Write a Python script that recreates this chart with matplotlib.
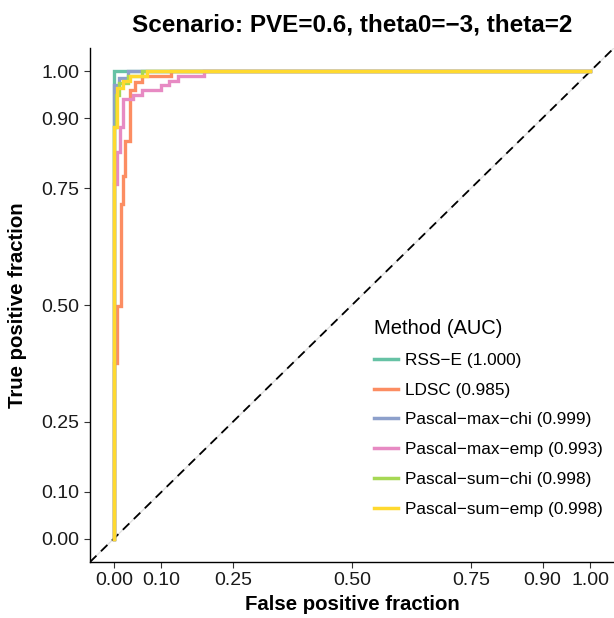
import matplotlib
matplotlib.use("Agg")
import matplotlib.pyplot as plt

plt.rcParams['font.family'] = ['Liberation Sans', 'DejaVu Sans']

# ROC curve vertices (false positive fraction, true positive fraction)
methods = ["RSS\u2212E", "LDSC", "Pascal\u2212max\u2212chi", "Pascal\u2212max\u2212emp",
           "Pascal\u2212sum\u2212chi", "Pascal\u2212sum\u2212emp"]
auc = [1.000, 0.985, 0.999, 0.993, 0.998, 0.998]
colors = ["#66C2A5", "#FC8D62", "#8DA0CB", "#E78AC3", "#A6D854", "#FFD92F"]

fpr_rss = [0.0, 0.0, 1.0]
tpr_rss = [0.0, 1.0, 1.0]

fpr_ldsc = [0.0, 0.0, 0.007, 0.007, 0.016, 0.016, 0.02, 0.02, 0.024, 0.024,
            0.035, 0.035, 0.045, 0.045, 0.06, 0.06, 0.12, 0.12, 1.0]
tpr_ldsc = [0.0, 0.376, 0.376, 0.497, 0.497, 0.716, 0.716, 0.776, 0.776, 0.85,
            0.85, 0.96, 0.96, 0.978, 0.978, 0.99, 0.99, 1.0, 1.0]

fpr_maxchi = [0.0, 0.0, 0.01, 0.01, 0.03, 0.03, 1.0]
tpr_maxchi = [0.0, 0.97, 0.97, 0.985, 0.985, 1.0, 1.0]

fpr_maxemp = [0.0, 0.0, 0.007, 0.007, 0.014, 0.014, 0.02, 0.02, 0.04, 0.04, 0.06, 0.06,
              0.1, 0.1, 0.115, 0.115, 0.135, 0.135, 0.19, 0.19, 1.0]
tpr_maxemp = [0.0, 0.76, 0.76, 0.827, 0.827, 0.882, 0.882, 0.94, 0.94, 0.95, 0.95, 0.96,
              0.96, 0.97, 0.97, 0.98, 0.98, 0.99, 0.99, 1.0, 1.0]

fpr_sumchi = [0.0, 0.0, 0.004, 0.004, 0.01, 0.01, 0.03, 0.03, 0.06, 0.06, 1.0]
tpr_sumchi = [0.0, 0.88, 0.88, 0.95, 0.95, 0.975, 0.975, 0.99, 0.99, 1.0, 1.0]

fpr_sumemp = [0.0, 0.0, 0.006, 0.006, 0.02, 0.02, 0.035, 0.035, 0.07, 0.07, 1.0]
tpr_sumemp = [0.0, 0.88, 0.88, 0.965, 0.965, 0.98, 0.98, 0.99, 0.99, 1.0, 1.0]

curves = [(fpr_rss, tpr_rss), (fpr_ldsc, tpr_ldsc), (fpr_maxchi, tpr_maxchi),
          (fpr_maxemp, tpr_maxemp), (fpr_sumchi, tpr_sumchi), (fpr_sumemp, tpr_sumemp)]

ticks = [0.0, 0.1, 0.25, 0.5, 0.75, 0.9, 1.0]
tick_labels = ["0.00", "0.10", "0.25", "0.50", "0.75", "0.90", "1.00"]

fig = plt.figure(figsize=(6.14, 6.18), dpi=100)
# panel in pixels: left 90, right 614, top 48, bottom 562
ax = fig.add_axes([90 / 614, 56 / 618, 524 / 614, 514 / 618])

# diagonal reference line: pale line under a black dashed one
ax.plot([-0.05, 1.05], [-0.05, 1.05], color="#e0e0e0", lw=1.0, zorder=1)
ax.plot([-0.05, 1.05], [-0.05, 1.05], color="black", lw=1.3, dashes=(5, 3.5), zorder=2)

for name, a, col, (x, y) in zip(methods, auc, colors, curves):
    ax.plot(x, y, color=col, lw=2.4, label=f"{name} ({a:.3f})", zorder=3,
            solid_joinstyle="miter")

ax.set_xlim(-0.05, 1.05)
ax.set_ylim(-0.05, 1.05)
ax.set_xticks(ticks)
ax.set_xticklabels(tick_labels)
ax.set_yticks(ticks)
ax.set_yticklabels(tick_labels)
ax.tick_params(labelsize=14, length=4, width=0.8, color="#333333", labelcolor="#1a1a1a")

for side in ["top", "right"]:
    ax.spines[side].set_visible(False)
for side in ["left", "bottom"]:
    ax.spines[side].set_linewidth(1.0)

ax.set_xlabel("False positive fraction", fontsize=14.7, fontweight="bold")
ax.xaxis.label.set_va("center")
ax.xaxis.set_label_coords(0.5, -43 / 514)
ax.set_ylabel("True positive fraction", fontsize=14.7, fontweight="bold")
ax.yaxis.label.set_va("center")
ax.yaxis.set_label_coords(-72 / 524, 0.5)
ax.set_title("Scenario: PVE=0.6, theta0=\u22123, theta=2", fontsize=17.5,
             fontweight="bold", pad=12)

leg = ax.legend(title="Method (AUC)", loc="upper left", bbox_to_anchor=(374 / 614, 1 - 319 / 618),
                bbox_transform=fig.transFigure, frameon=False, fontsize=12.45,
                title_fontsize=14.5, handlelength=1.4, handletextpad=0.4,
                labelspacing=0.85, borderpad=0, borderaxespad=0)
leg._legend_box.align = "left"
for line in leg.get_lines():
    line.set_linewidth(2.5)

fig.savefig("out.png", dpi=100)
